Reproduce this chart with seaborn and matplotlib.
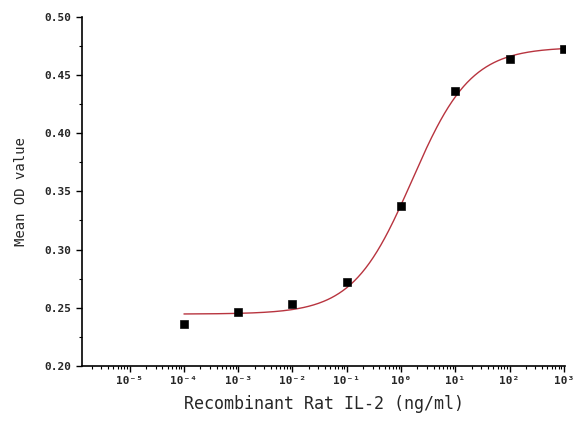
import numpy as np
import pandas as pd
import seaborn as sns
from matplotlib import pyplot as plt
from matplotlib.ticker import LogLocator, MultipleLocator, NullFormatter

sns.set_style('white')
plt.rcParams['font.family'] = ['DejaVu Sans Mono', 'DejaVu Sans']

# measured points
conc = [1e-4, 1e-3, 1e-2, 1e-1, 1e0, 1e1, 1e2, 1e3]
od = [0.236, 0.246, 0.253, 0.272, 0.337, 0.436, 0.464, 0.472]

# 4-parameter logistic fit
fit_bottom = 0.2445
fit_top = 0.474
fit_log_ec50 = 0.2
fit_hill = 0.8

x_ticks = [1e-5, 1e-4, 1e-3, 1e-2, 1e-1, 1e0, 1e1, 1e2, 1e3]
x_labels = ['10⁻⁵', '10⁻⁴', '10⁻³', '10⁻²', '10⁻¹', '10⁰', '10¹', '10²', '10³']
y_ticks = [0.20, 0.25, 0.30, 0.35, 0.40, 0.45, 0.50]

df_pts = pd.DataFrame({'conc': conc, 'od': od})
xs = np.logspace(np.log10(conc[0]), np.log10(conc[-1]), 300)
ys = fit_bottom + (fit_top - fit_bottom) / (
    1 + 10 ** (fit_hill * (fit_log_ec50 - np.log10(xs))))
df_fit = pd.DataFrame({'conc': xs, 'od': ys})

fig = plt.figure(figsize=(5.77, 4.21), dpi=100)
ax = fig.add_axes([0.142, 0.131, 0.838, 0.829])
ax.set_xscale('log')

sns.lineplot(x='conc', y='od', data=df_fit, ax=ax, color='#b8343f',
             linewidth=1.0)
sns.scatterplot(x='conc', y='od', data=df_pts, ax=ax, marker='s', s=32,
                color='black', edgecolor='black', zorder=3)

ax.set_xlim(10 ** -5.88, 10 ** 3.03)
ax.set_ylim(0.20, 0.50)
ax.set_xticks(x_ticks)
ax.set_xticklabels(x_labels, fontsize=8, fontweight='bold')
ax.xaxis.set_minor_locator(LogLocator(base=10, subs=np.arange(2, 10),
                                      numticks=20))
ax.xaxis.set_minor_formatter(NullFormatter())
ax.set_yticks(y_ticks)
ax.set_yticklabels(['%.2f' % v for v in y_ticks], fontsize=8,
                   fontweight='bold')
ax.yaxis.set_minor_locator(MultipleLocator(0.025))

ax.tick_params(axis='both', which='major', direction='out', length=4,
               width=1, color='black', bottom=True, left=True)
ax.tick_params(axis='both', which='minor', direction='out', length=2,
               width=0.8, color='black', bottom=True, left=True)

for side in ['top', 'right']:
    ax.spines[side].set_visible(False)
for side in ['left', 'bottom']:
    ax.spines[side].set_color('black')
    ax.spines[side].set_linewidth(1.2)

ax.set_xlabel('Recombinant Rat IL-2 (ng/ml)', fontsize=12, labelpad=6)
ax.set_ylabel('Mean OD value', fontsize=10, labelpad=12)

plt.savefig('out.png', dpi=100)
plt.close()
